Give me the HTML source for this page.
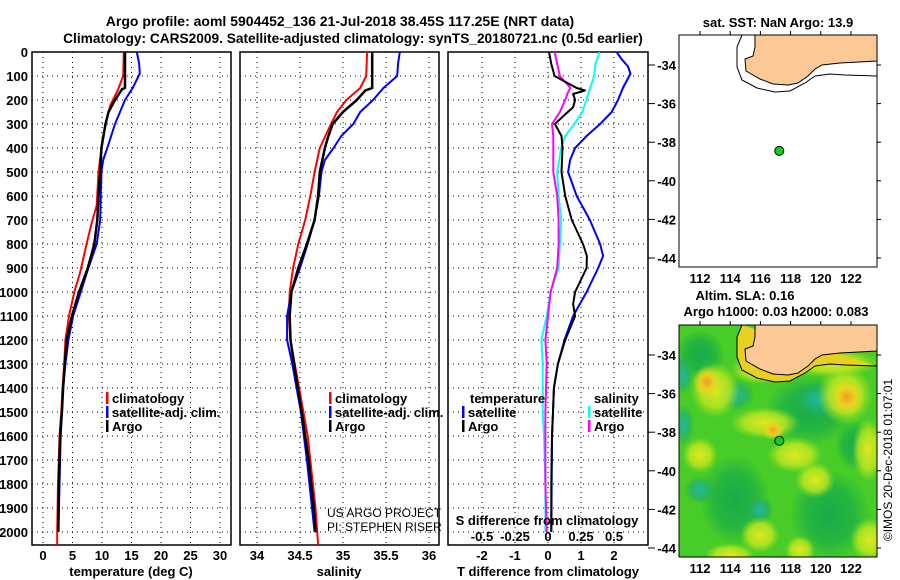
<!DOCTYPE html>
<html><head><meta charset="utf-8">
<style>
body{margin:0;background:#fff;}
svg{display:block;font-family:"Liberation Sans",sans-serif;}
.b{font-weight:bold;font-size:13px;}
</style></head>
<body>
<svg id="c" width="900" height="580" viewBox="0 0 900 580" xmlns="http://www.w3.org/2000/svg">
<defs>
<radialGradient id="gOr"><stop offset="0" stop-color="#f0a020"/><stop offset="0.5" stop-color="#f0d020" stop-opacity="0.9"/><stop offset="1" stop-color="#c8e020" stop-opacity="0"/></radialGradient>
<radialGradient id="gYe"><stop offset="0" stop-color="#e0e820"/><stop offset="0.6" stop-color="#c0e820" stop-opacity="0.8"/><stop offset="1" stop-color="#a0e020" stop-opacity="0"/></radialGradient>
<radialGradient id="gTe"><stop offset="0" stop-color="#20b8a0"/><stop offset="0.6" stop-color="#20b070" stop-opacity="0.7"/><stop offset="1" stop-color="#20b040" stop-opacity="0"/></radialGradient>
<radialGradient id="gDg"><stop offset="0" stop-color="#18ac48"/><stop offset="0.6" stop-color="#18ac48" stop-opacity="0.7"/><stop offset="1" stop-color="#18ac48" stop-opacity="0"/></radialGradient>
<clipPath id="clipMap2"><rect x="679" y="325" width="198" height="232"/></clipPath>
</defs>
<text x="340" y="26" text-anchor="middle" font-size="14" font-weight="bold">Argo profile: aoml 5904452_136 21-Jul-2018 38.45S 117.25E (NRT data)</text>
<text x="353" y="43" text-anchor="middle" font-size="13.7" font-weight="bold">Climatology: CARS2009. Satellite-adjusted climatology: synTS_20180721.nc (0.5d earlier)</text>
<g id="panels"></g>
<g id="maps"></g>
</svg>
<script>
// ---- data: depth levels (dbar) ----
const depthTicks=[0,100,200,300,400,500,600,700,800,900,1000,1100,1200,1300,1400,1500,1600,1700,1800,1900,2000];
const tempTicks=[0,5,10,15,20,25,30];
const salTicks=[34,34.5,35,35.5,36];
const tdiffTicks=[-2,-1,0,1,2];
const sdiffTickVals=[-0.5,-0.25,0,0.25,0.5];
const sdiffTickLabels=["-0.5","-0.25","0","0.25","0.5"];

const tClimDepth=[0,100,158,222,292,361,500,639,708,778,917,1000,1100,1200,1300,1400,1500,1600,1800,2000,2054];
const tClim=[13.7,13.6,12.7,11.4,10.7,10.1,9.4,9.1,8.3,7.6,6.3,5.3,4.4,3.8,3.6,3.3,3.1,2.8,2.55,2.4,2.4];
const tArgoDepth=[0,150,155,200,250,300,400,500,600,700,800,900,1000,1100,1200,1300,1400,1500,1600,1800,2000];
const tArgo=[13.9,13.9,13.4,12.2,11.1,10.6,9.9,9.7,9.4,9.2,8.7,7.6,6.1,4.9,4.0,3.7,3.4,3.2,2.9,2.7,2.6];
const tSatDepth=[0,50,90,150,200,300,400,450,500,600,700,800,900,1000,1100,1200,1300,1400,1500,1600,1800,2000];
const tSat=[15.9,16.3,16.4,15.2,13.9,12.2,10.9,10.2,9.9,9.8,9.7,9.1,7.7,6.4,5.1,4.3,3.8,3.4,3.2,3.0,2.8,2.6];

const sClimDepth=[0,100,150,200,250,300,400,500,600,700,800,900,1000,1100,1200,1300,1400,1500,1600,1700,1800,1900,2000,2054];
const sClim=[35.28,35.27,35.20,35.04,34.93,34.86,34.73,34.67,34.62,34.56,34.48,34.42,34.38,34.37,34.39,34.44,34.49,34.54,34.59,34.62,34.65,34.68,34.70,34.71];
const sArgoDepth=[0,150,160,200,250,300,350,400,500,600,700,800,900,1000,1100,1200,1300,1500,1700,1900,2000];
const sArgo=[35.34,35.34,35.26,35.16,35.0,34.88,34.83,34.79,34.73,34.71,34.67,34.58,34.48,34.40,34.38,34.39,34.43,34.52,34.60,34.66,34.68];
const sSatDepth=[0,50,100,150,200,250,300,350,400,450,500,600,700,800,900,1000,1100,1200,1300,1500,1700,1900,2000];
const sSat=[35.66,35.64,35.63,35.47,35.35,35.2,35.12,34.98,34.89,34.79,34.75,34.72,34.67,34.59,34.5,34.40,34.35,34.35,34.41,34.51,34.58,34.64,34.67];

const dTArgoDepth=[0,50,100,150,160,175,200,230,260,300,350,400,500,600,700,800,850,900,1000,1050,1100,1200,1300,1400,1500,1600,1800,2000];
const dTArgo=[0.03,0.1,0.2,0.87,1.12,0.76,0.82,0.76,0.52,0.21,0.41,0.44,0.41,0.52,0.72,1.06,1.18,1.17,0.82,0.76,0.82,0.52,0.3,0.18,0.15,0.12,0.1,0.1];
const dTSatDepth=[0,30,60,90,150,200,250,300,350,400,450,500,600,700,800,850,900,1000,1100,1200,1300,1400,1500,1600,2000];
const dTSat=[2.08,2.23,2.42,2.5,2.27,2.12,1.93,1.58,1.17,0.82,0.67,0.61,0.87,1.27,1.58,1.67,1.52,1.17,0.76,0.5,0.3,0.18,0.15,0.12,0.1];
const dSSatDepth=[0,50,100,150,200,250,300,350,400,500,600,700,800,900,1000,1100,1200,1300,1500,1600,1800,2000];
const dSSat=[0.39,0.36,0.35,0.32,0.29,0.26,0.2,0.13,0.10,0.07,0.08,0.1,0.09,0.08,0.02,-0.01,-0.05,-0.04,-0.04,-0.03,-0.02,-0.02];
const dSArgoDepth=[0,100,150,170,200,250,300,350,400,500,600,700,800,900,1000,1100,1200,1300,1500,1800,2000];
const dSArgo=[0.05,0.09,0.17,0.15,0.13,0.09,0.03,0.04,0.04,0.04,0.07,0.08,0.08,0.07,0.02,0.0,-0.02,-0.01,-0.02,-0.02,-0.01];

const lonTicks=[112,114,116,118,120,122];
const latTicks=[-34,-36,-38,-40,-42,-44];
const argoLon=117.25, argoLat=-38.45;

// ---- axes ----
const NS="http://www.w3.org/2000/svg";
const Y0=52, YB=545;
const yD=d=>Y0+d*0.24;
const xT=t=>43+t*5.9;
const xS=s=>257+(s-34)*86;
const xDT=d=>548+d*33;
const xDS=s=>548+s*132;
const mx=lon=>700+(lon-112)*15.1;
const my=(lat,top)=>top+30+(-34-lat)*19.3;

function mk(tag,attrs,parent){const e=document.createElementNS(NS,tag);for(const k in attrs)e.setAttribute(k,attrs[k]);parent.appendChild(e);return e;}
const P=document.getElementById('panels');
const M=document.getElementById('maps');

function panel(x0,x1,xticks,xf,labels,name){
  const g=mk('g',{},P);
  
  
  depthTicks.forEach(d=>{if(d>0){const l=mk('line',{x1:x0,x2:x1,y1:yD(d),y2:yD(d),stroke:'#000','stroke-width':1,'stroke-dasharray':'1,4'},g);
    }});
  xticks.forEach((v,i)=>{const X=xf(v);const l=mk('line',{x1:X,x2:X,y1:Y0,y2:YB,stroke:'#000','stroke-width':1,'stroke-dasharray':'1,4'},g);
    
    const t=mk('text',{x:X,y:560,'text-anchor':'middle',class:'b'},g);t.textContent=labels?labels[i]:String(v);
    });
  const r=mk('rect',{x:x0,y:Y0,width:x1-x0,height:YB-Y0,fill:'none',stroke:'#000','stroke-width':1.5},g);
  
  return g;
}
function line(g,ds,vs,xf,color,w,name){
  const pts=ds.map((d,i)=>xf(vs[i]).toFixed(1)+','+yD(d).toFixed(1)).join(' ');
  const p=mk('polyline',{points:pts,fill:'none',stroke:color,'stroke-width':w,'stroke-linejoin':'round'},g);
  
}
function txt(g,x,y,s,name,extra){const t=mk('text',Object.assign({x:x,y:y,class:'b'},extra||{}),g);t.textContent=s;
  return t;}
function legend(g,x,y,color,label,name){
  const r=mk('rect',{x:x,y:y-11,width:2.5,height:12,fill:color},g);
  
  txt(g,x+6,y,label,name);
}

// panel 1 temperature
const g1=panel(32,231,tempTicks,xT,null,'temperature-panel');
depthTicks.forEach(d=>txt(g1,28,yD(d)+5,String(d),'depth-tick-label',{'text-anchor':'end'}));
line(g1,tClimDepth,tClim,xT,'#f00',2,'temp-climatology-line');
line(g1,tSatDepth,tSat,xT,'#00f',2,'temp-satellite-line');
line(g1,tArgoDepth,tArgo,xT,'#000',2.5,'temp-argo-line');
legend(g1,106,403,'#f00','climatology','legend-climatology');
legend(g1,106,417,'#00f','satellite-adj. clim.','legend-satellite');
legend(g1,106,431,'#000','Argo','legend-argo');
txt(g1,131,576,'temperature (deg C)','x-axis-title-temperature',{'text-anchor':'middle'});

// panel 2 salinity
const g2=panel(240,439,salTicks,xS,null,'salinity-panel');
line(g2,sClimDepth,sClim,xS,'#f00',2,'sal-climatology-line');
line(g2,sSatDepth,sSat,xS,'#00f',2,'sal-satellite-line');
line(g2,sArgoDepth,sArgo,xS,'#000',2.5,'sal-argo-line');
legend(g2,329,403,'#f00','climatology','legend-climatology');
legend(g2,329,417,'#00f','satellite-adj. clim.','legend-satellite');
legend(g2,329,431,'#000','Argo','legend-argo');
txt(g2,327,517,'US ARGO PROJECT','credit-project',{style:'font-weight:normal;font-size:12px'});
txt(g2,327,531,'PI: STEPHEN RISER','credit-pi',{style:'font-weight:normal;font-size:12px'});
txt(g2,339,576,'salinity','x-axis-title-salinity',{'text-anchor':'middle'});

// panel 3 differences
const g3=panel(448,648,tdiffTicks,xDT,null,'difference-panel');
line(g3,dSSatDepth,dSSat,xDS,'#0ff',2,'sdiff-satellite-line');
line(g3,dSArgoDepth,dSArgo,xDS,'#f0f',2,'sdiff-argo-line');
line(g3,dTSatDepth,dTSat,xDT,'#00f',2,'tdiff-satellite-line');
line(g3,dTArgoDepth,dTArgo,xDT,'#000',2,'tdiff-argo-line');
txt(g3,470,403,'temperature','legend-title-temperature');
legend(g3,462,417,'#00f','satellite','legend-t-satellite');
legend(g3,462,431,'#000','Argo','legend-t-argo');
txt(g3,594,403,'salinity','legend-title-salinity');
legend(g3,588,417,'#0ff','satellite','legend-s-satellite');
legend(g3,588,431,'#f0f','Argo','legend-s-argo');
txt(g3,547,525,'S difference from climatology','sdiff-axis-title',{'text-anchor':'middle'});
sdiffTickVals.forEach((v,i)=>txt(g3,xDS(v),541,sdiffTickLabels[i],'sdiff-tick-label',{'text-anchor':'middle'}));
txt(g3,548,576,'T difference from climatology','x-axis-title-tdiff',{'text-anchor':'middle'});

// ---- maps ----
function map(top,name,heat){
  const g=mk('g',{},M);
  
  const bg=mk('rect',{x:679,y:top,width:198,height:232,fill:heat?'#48cc28':'#fff'},g);
  
  if(heat){
    const h=mk('g',{'clip-path':'url(#clipMap2)'},g);
    
    const blobs=[['gDg',810,top+85,45,35],['gDg',735,top+175,35,45],['gDg',830,top+190,40,45],['gDg',700,top+30,25,25],['gDg',855,top+120,20,25],
      ['gTe',735,top+70,20,16],['gTe',818,top+75,25,20],['gTe',683,top+50,10,20],['gTe',684,top+100,10,20],
      ['gTe',700,top+165,16,14],['gTe',760,top+185,14,14],
      ['gYe',715,top+65,25,28],['gOr',707,top+57,14,16],['gYe',845,top+70,28,30],['gOr',847,top+72,17,19],
      ['gYe',765,top+98,35,16],['gOr',773,top+105,12,10],['gYe',795,top+130,28,18],['gYe',815,top+155,20,18],
      ['gYe',700,top+130,18,18],['gYe',868,top+125,16,32],['gYe',870,top+215,20,22],['gYe',760,top+210,20,18],
      ['gYe',830,top+38,50,14],['gYe',760,top+45,30,14],['gYe',730,top+230,25,12],['gYe',800,top+225,15,15]];
    blobs.forEach(b=>{const e=mk('ellipse',{cx:b[1],cy:b[2],rx:b[3],ry:b[4],fill:'url(#'+b[0]+')'},h);
      });
  }
  const coast=mk('path',{d:`M742,${top} L737,${top+12} L737,${top+32} L742,${top+45} L757,${top+53} L775,${top+57} L790,${top+56} L805,${top+48} L815,${top+41} L830,${top+39} L845,${top+40} L877,${top+41}`,
    fill:heat?'#e8d020':'none',stroke:'#000','stroke-width':1},g);
  
  const land=mk('path',{d:`M755,${top} L877,${top} L877,${top+26} L840,${top+28} L822,${top+30} L815,${top+34} L808,${top+41} L798,${top+48} L788,${top+50} L773,${top+49} L760,${top+44} L746,${top+36} L745,${top+24} L753,${top+21} L755,${top+12} Z`,
    fill:'#fcc896',stroke:'#000','stroke-width':1},g);
  
  const fr=mk('rect',{x:679,y:top,width:198,height:232,fill:'none',stroke:'#000','stroke-width':1},g);
  
  lonTicks.forEach(l=>{
    const tk=mk('line',{x1:mx(l),x2:mx(l),y1:top-4,y2:top,stroke:'#000'},g);
    
    txt(g,mx(l),top+248,String(l),'lon-tick-label',{'text-anchor':'middle'});});
  latTicks.forEach(l=>{
    const tk=mk('line',{x1:877,x2:881,y1:my(l,top),y2:my(l,top),stroke:'#000'},g);
    
    const tk2=mk('line',{x1:648,x2:655,y1:my(l,top),y2:my(l,top),stroke:'#000'},g);
    
    txt(g,676,my(l,top)+5,String(l),'lat-tick-label',{'text-anchor':'end'});});
  const dot=mk('circle',{cx:mx(argoLon),cy:my(argoLat,top),r:4.5,fill:'#10d010',stroke:'#000','stroke-width':1},g);
  
  return g;
}
const m1=map(35,'sst-map',false);
txt(m1,778,27,'sat. SST: NaN Argo: 13.9','sst-map-title',{'text-anchor':'middle'});
const m2=map(325,'altimetry-map',true);
txt(m2,745,300,'Altim. SLA: 0.16','altimetry-map-title',{'text-anchor':'middle'});
txt(m2,776,316,'Argo h1000: 0.03 h2000: 0.083','altimetry-map-subtitle',{'text-anchor':'middle'});
const imos=txt(m2,0,0,'©IMOS 20-Dec-2018 01:07:01','imos-credit',{'text-anchor':'middle',transform:'translate(892,460) rotate(-90)',style:'font-weight:normal;font-size:12px'});
</script>
</body></html>
